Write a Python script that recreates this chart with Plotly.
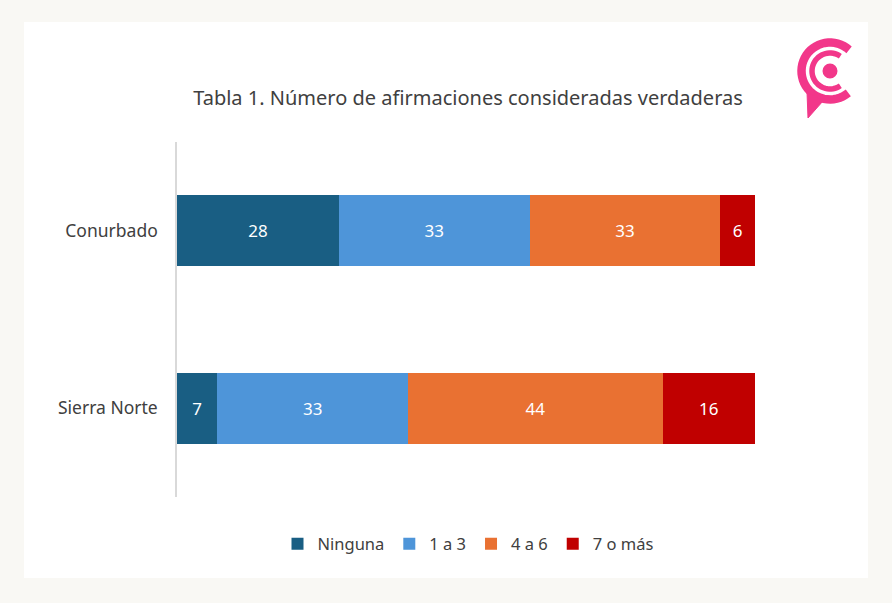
import math
import plotly.graph_objects as go

categories = ["Conurbado", "Sierra Norte"]
series_names = ["Ninguna", "1 a 3", "4 a 6", "7 o más"]
ninguna = [28, 7]
uno_a_tres = [33, 33]
cuatro_a_seis = [33, 44]
siete_o_mas = [6, 16]
series_values = [ninguna, uno_a_tres, cuatro_a_seis, siete_o_mas]
colors = ["#195e83", "#4e95d9", "#e97132", "#c00000"]
title_text = "Tabla 1. Número de afirmaciones consideradas verdaderas"

W, H = 892, 603
L, R, T, B = 177, 137, 142, 106
PW, PH = W - L - R, H - T - B


def px(x):
    return (x - L) / PW


def py(y):
    return (H - B - y) / PH


FONT = "Noto Sans"
fig = go.Figure()
for name, vals, col in zip(series_names, series_values, colors):
    fig.add_trace(go.Bar(
        y=categories, x=vals, name=name, orientation="h",
        marker=dict(color=col, line=dict(width=0)),
        text=vals, texttemplate="%{x}", textposition="inside",
        insidetextanchor="middle", textangle=0,
        textfont=dict(color="white", size=17, family=FONT),
        hoverinfo="skip",
    ))

shapes = [
    dict(type="rect", xref="paper", yref="paper", x0=px(24), x1=px(868),
         y0=py(578), y1=py(22), fillcolor="white", line=dict(width=0), layer="below"),
]

# logo (decorative)
cx, cy = 830, 71
pink = "#f2378a"


def arc_path(r, a0, a1, n=40):
    pts = []
    for i in range(n + 1):
        a = math.radians(a0 + (a1 - a0) * i / n)
        x = cx + r * math.cos(a)
        y = cy - r * math.sin(a)
        pts.append((px(x), py(y)))
    return "M " + " L ".join(f"{a:.5f},{b:.5f}" for a, b in pts)


shapes.append(dict(type="path", xref="paper", yref="paper", path=arc_path(28.5, 48, 310),
                   line=dict(color=pink, width=8.5), layer="above"))
shapes.append(dict(type="path", xref="paper", yref="paper", path=arc_path(18, 55, 305),
                   line=dict(color=pink, width=5.5), layer="above"))
shapes.append(dict(type="circle", xref="paper", yref="paper",
                   x0=px(cx - 7.5), x1=px(cx + 7.5), y0=py(cy + 7.5), y1=py(cy - 7.5),
                   fillcolor=pink, line=dict(width=0)))
tail = [(807, 92), (823, 101), (808, 118)]
shapes.append(dict(type="path", xref="paper", yref="paper",
                   path="M " + " L ".join(f"{px(a):.5f},{py(b):.5f}" for a, b in tail) + " Z",
                   fillcolor=pink, line=dict(color=pink, width=1)))

fig.update_layout(
    width=W, height=H,
    margin=dict(l=L, r=R, t=T, b=B),
    paper_bgcolor="#f9f8f4",
    plot_bgcolor="rgba(0,0,0,0)",
    barmode="stack",
    bargap=0.6,
    title=dict(text=title_text, x=468 / W, xanchor="center", xref="container",
               y=1 - 98 / H, yanchor="middle", yref="container",
               font=dict(family=FONT, size=20, color="#404040")),
    xaxis=dict(range=[0, 100], visible=False, fixedrange=True),
    yaxis=dict(autorange="reversed", showline=True, linecolor="#d9d9d9", linewidth=1.5,
               ticks="", ticklabelstandoff=14, showgrid=False, zeroline=False,
               tickfont=dict(family=FONT, size=17.5, color="#404040")),
    legend=dict(orientation="h", x=px(468), xanchor="center", y=py(544), yanchor="middle",
                font=dict(family=FONT, size=16.5, color="#404040"), itemwidth=30,
                traceorder="normal", bgcolor="rgba(0,0,0,0)"),
    shapes=shapes,
    showlegend=True,
)

fig.write_html("out.html")
